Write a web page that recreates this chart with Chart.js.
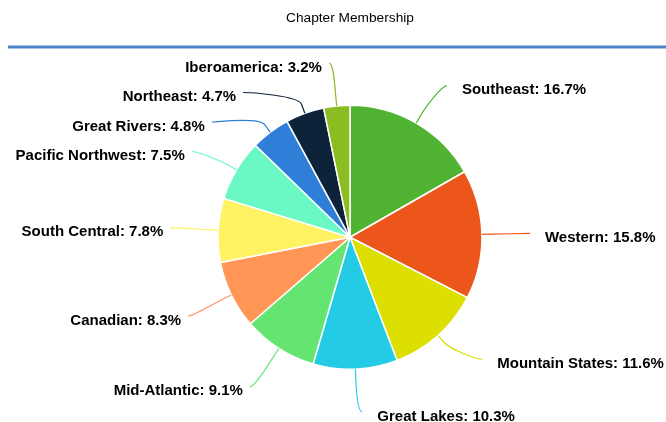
<!DOCTYPE html>
<html>
<head>
<meta charset="utf-8">
<script src="https://cdn.jsdelivr.net/npm/chart.js@4.4.1/dist/chart.umd.min.js"></script>
<style>
  html, body { margin: 0; padding: 0; background: #ffffff; }
  #wrap { width: 666px; height: 422px; }
</style>
</head>
<body>
<div id="wrap"><canvas id="c" width="666" height="422"></canvas></div>
<script>
// ---- data ----
const categories = ['Southeast', 'Western', 'Mountain States', 'Great Lakes', 'Mid-Atlantic',
  'Canadian', 'South Central', 'Pacific Northwest', 'Great Rivers', 'Northeast', 'Iberoamerica'];
const shares = [16.7, 15.8, 11.6, 10.3, 9.1, 8.3, 7.8, 7.5, 4.8, 4.7, 3.2];
const sliceColors = ['#50B432', '#ED561B', '#DDDF00', '#24CBE5', '#64E572', '#FF9655',
  '#FFF263', '#6AF9C4', '#2F7ED8', '#0D233A', '#8BBC21'];
const chartTitle = 'Chapter Membership';

// ---- label style ----
const labelFont = 'bold 15px "Liberation Sans", Arial, sans-serif';
const labelDistance = 48;   // beyond the pie edge
const labelGap = 29.5;      // min vertical spacing between labels
const labelTop = 63, labelBottom = 412;
const labelNudgeY = [4, 0, -12, 0, -2, 0, 0, 0, 0, 0, 0];
const labelNudgeX = [0, 0, 0, 5, 0, 0, 0, 0, 0, 0, -3];

const headerPlugin = {
  id: 'header',
  beforeDraw(chart) {
    const ctx = chart.ctx;
    ctx.save();
    ctx.fillStyle = '#4A86C8';
    ctx.fillRect(8, 45.5, chart.width - 8, 3);
    ctx.restore();
  }
};

const pieLabels = {
  id: 'pieLabels',
  afterDatasetsDraw(chart) {
    const ctx = chart.ctx;
    const meta = chart.getDatasetMeta(0);
    const items = meta.data.map((arc, i) => {
      const p = arc.getProps(['x', 'y', 'startAngle', 'endAngle', 'outerRadius'], true);
      const a = (p.startAngle + p.endAngle) / 2;
      const cos = Math.cos(a), sin = Math.sin(a);
      const R = p.outerRadius + labelDistance;
      return { i, cx: p.x, cy: p.y, r: p.outerRadius, cos, sin, R,
        left: cos < 0, natY: p.y + R * sin + labelNudgeY[i] };
    });
    [true, false].forEach(side => {
      const list = items.filter(o => o.left === side).sort((a, b) => a.natY - b.natY);
      let prev = -Infinity;
      list.forEach(o => { o.y = Math.max(o.natY, labelTop, prev + labelGap); prev = o.y; });
      let next = Infinity;
      for (let k = list.length - 1; k >= 0; k--) {
        const o = list[k];
        o.y = Math.min(o.y, labelBottom, next - labelGap);
        next = o.y;
      }
    });
    items.forEach(o => {
      const clamped = o.y >= labelBottom - 0.5 || o.y <= labelTop + 0.5;
      const refY = clamped ? Math.max(Math.min(o.natY, o.cy + o.R), o.cy - o.R) : o.y;
      const dy = Math.max(-1, Math.min(1, (refY - o.cy) / o.R));
      o.x = o.cx + (o.left ? -1 : 1) * Math.cos(Math.asin(dy)) * o.R + labelNudgeX[o.i];
    });

    ctx.save();
    items.forEach(o => {
      const tx = o.cx + o.r * o.cos, ty = o.cy + o.r * o.sin;
      const off = labelDistance / 5;
      const bx = o.cx + (o.r + off) * o.cos, by = o.cy + (o.r + off) * o.sin;
      ctx.beginPath();
      ctx.moveTo(o.x, o.y);
      ctx.bezierCurveTo(o.x + (o.left ? 5 : -5), o.y, 2 * bx - tx, 2 * by - ty, bx, by);
      ctx.lineTo(tx, ty);
      ctx.strokeStyle = sliceColors[o.i];
      ctx.lineWidth = 1.2;
      ctx.stroke();

      ctx.font = labelFont;
      ctx.fillStyle = '#000000';
      ctx.textBaseline = 'alphabetic';
      const text = categories[o.i] + ': ' + shares[o.i] + '%';
      if (o.left) {
        ctx.textAlign = 'right';
        ctx.fillText(text, o.x - 7, o.y + 8.5);
      } else {
        ctx.textAlign = 'left';
        ctx.fillText(text, o.x + 15, o.y + 8.5);
      }
    });
    ctx.restore();
  }
};

new Chart(document.getElementById('c'), {
  type: 'pie',
  data: {
    labels: categories,
    datasets: [{
      data: shares,
      backgroundColor: sliceColors,
      borderColor: '#ffffff',
      borderWidth: 1.5
    }]
  },
  options: {
    responsive: false,
    animation: false,
    devicePixelRatio: 1,
    layout: { padding: { left: 217, right: 183, top: 0, bottom: 52 } },
    plugins: {
      legend: { display: false },
      tooltip: { enabled: false },
      title: {
        display: true,
        text: chartTitle,
        color: '#000000',
        font: { family: '"Liberation Sans", Arial, sans-serif', size: 13.7, weight: 'normal', lineHeight: 1.2 },
        padding: { top: 10.5, bottom: 77.6 }
      }
    }
  },
  plugins: [headerPlugin, pieLabels]
});
</script>
</body>
</html>
